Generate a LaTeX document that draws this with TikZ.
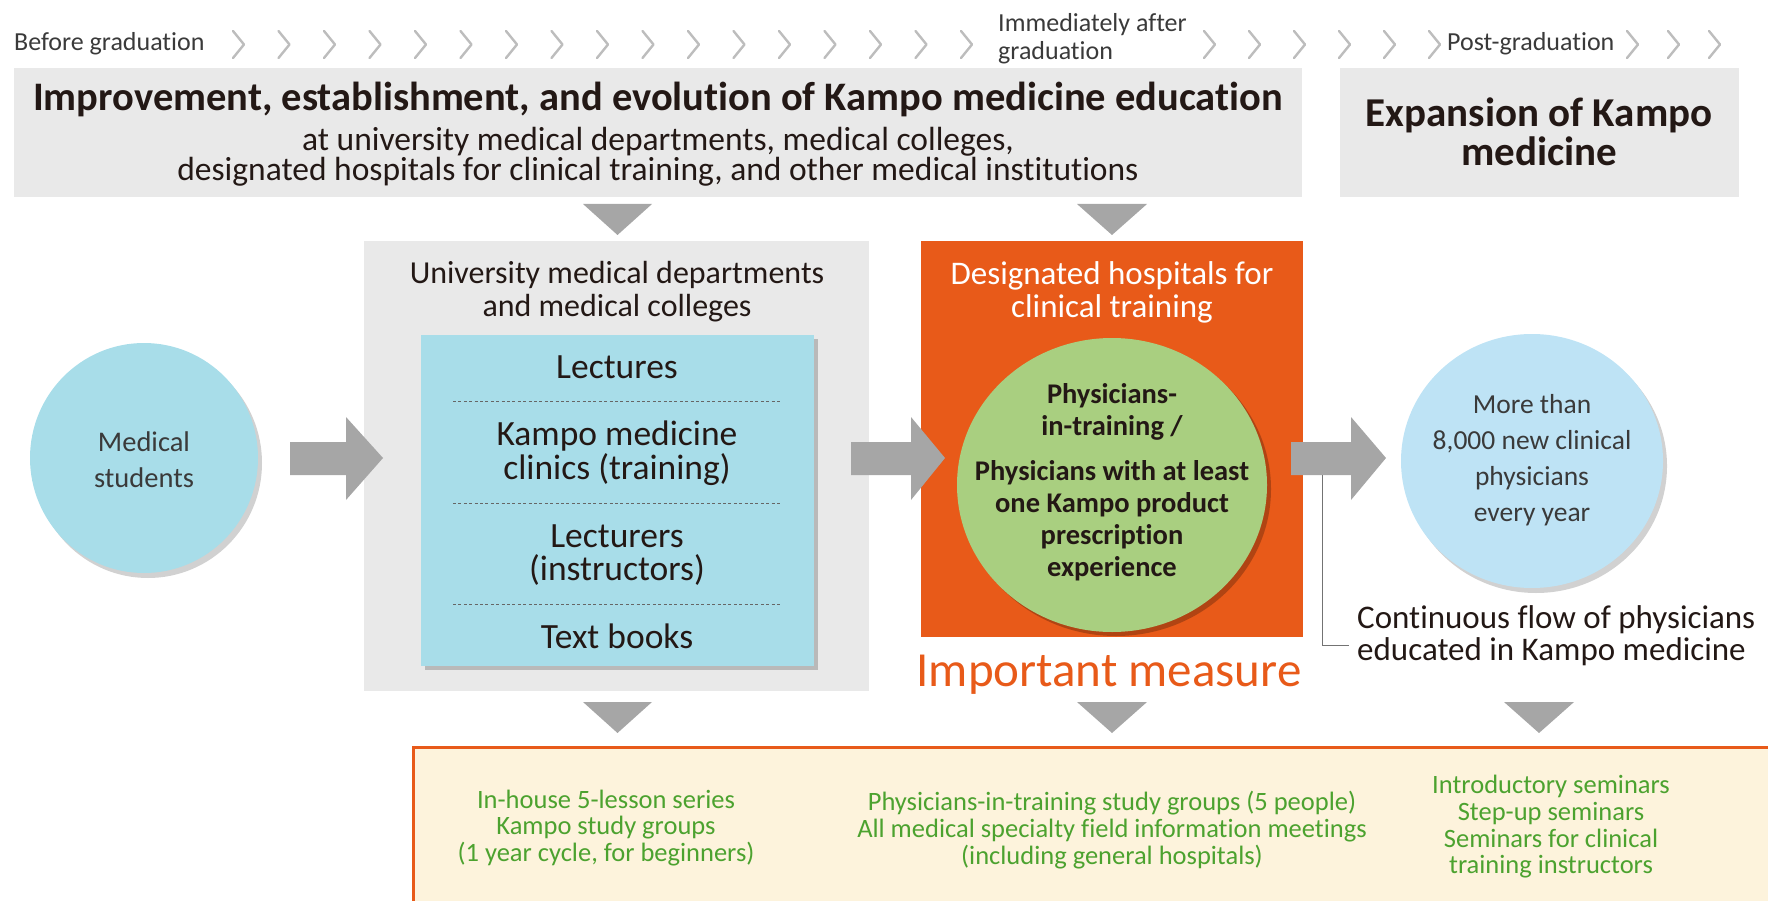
\documentclass[tikz,border=0pt]{standalone}
\usepackage{fontspec}
\setmainfont{Carlito}[Ligatures={NoCommon}]
\usetikzlibrary{shadows,shapes.geometric}

\definecolor{panelgray}{HTML}{E9E9E9}
\definecolor{arrowgray}{HTML}{A6A6A6}
\definecolor{chevgray}{HTML}{BDBDBD}
\definecolor{aqua}{HTML}{A8DDE9}
\definecolor{skyblue}{HTML}{BEE3F5}
\definecolor{accent}{HTML}{E85A19}
\definecolor{leaf}{HTML}{A9CF80}
\definecolor{cream}{HTML}{FDF3DC}
\definecolor{greentext}{HTML}{4CA22F}
\definecolor{ink}{HTML}{231815}
\definecolor{softink}{HTML}{3A3A3A}

\newcommand{\fs}[2]{\fontsize{#1}{#2}\selectfont}

\tikzset{
  chevron/.style={draw=chevgray, line width=2.4pt, line cap=round, line join=round},
  panel/.style={fill=panelgray, draw=none},
  downtri/.style={fill=arrowgray, draw=none},
  fatarrow/.style={fill=arrowgray, draw=none},
  stagelabel/.style={text=softink, font=\fs{26}{28}, inner sep=0pt},
  bubble/.style={ellipse, draw=none, inner sep=0pt,
    drop shadow={shadow xshift=4pt, shadow yshift=-5pt, fill=black!30, opacity=0.6}},
  listitem/.style={text=ink, font=\fs{35.5}{33.5}, align=center, inner sep=0pt},
  sep/.style={draw=black!60, dash pattern=on 3pt off 2.4pt, line width=1pt},
  greenlist/.style={text=greentext, font=\fs{26.5}{26.7}, align=center, inner sep=0pt},
}

\begin{document}
\begin{tikzpicture}[x=1pt, y=-1pt]
\useasboundingbox (0,0) rectangle (1768,901);

% ---------- timeline along the top ----------
\node[stagelabel, anchor=west] (before) at (14,44) {Before graduation};
\foreach \cx in {238,283.5,329,374.5,420,465.5,511,556.5,602,647.5,693,738.5,784,829.5,875,920.5,966,
                 1209,1254,1299,1344,1389,1434,1632,1673,1714}
  \draw[chevron] (\cx-5,31) -- (\cx+6,44.5) -- (\cx-5,58);
\node[stagelabel, anchor=west, align=left] (after) at (998,39) {Immediately after\\graduation};
\node[stagelabel, anchor=west, fill=white, inner xsep=2pt] (post) at (1445,44) {Post-graduation};

% ---------- headline panels ----------
\fill[panel] (14,68) rectangle (1302,197);
\node[text=ink, font=\bfseries\fs{40.5}{42}, inner sep=0pt] (headline) at (658,99)
  {Improvement, establishment, and evolution of Kampo medicine education};
\node[text=ink, font=\fs{33.5}{30}, align=center, inner sep=0pt] (headsub) at (658,157)
  {at university medical departments, medical colleges,\\designated hospitals for clinical training, and other medical institutions};

\fill[panel] (1340,68) rectangle (1739,197);
\node[text=ink, font=\bfseries\fs{41}{39}, align=center, inner sep=0pt] (expansion) at (1539,132)
  {Expansion of Kampo\\medicine};

% down markers under the headline panel
\fill[downtri] (583,204) -- (652,204) -- (617.5,235) -- cycle;
\fill[downtri] (1077,204) -- (1147,204) -- (1112,235) -- cycle;

% ---------- medical students ----------
\node[bubble, fill=aqua, minimum width=228, minimum height=230] (students) at (144,458) {};
\node[text=softink, font=\fs{28.5}{36}, align=center, inner sep=0pt] at (144,460) {Medical\\students};

% ---------- university panel ----------
\fill[panel] (364,241) rectangle (869,691);
\node[text=ink, font=\fs{32}{33}, align=center, inner sep=0pt] (univ) at (617,292)
  {University medical departments\\and medical colleges};
\node[fill=aqua, minimum width=393, minimum height=331, inner sep=0pt, anchor=north west,
  drop shadow={shadow xshift=4pt, shadow yshift=-4pt, fill=black!35, opacity=0.7}] (curric) at (421,335) {};
\node[listitem] (lectures) at (617,367) {Lectures};
\draw[sep] (453,401) -- (781,401);
\node[listitem] (clinics) at (617,453) {Kampo medicine\\clinics (training)};
\draw[sep] (453,503) -- (781,503);
\node[listitem] (lecturers) at (617,555) {Lecturers\\(instructors)};
\draw[sep] (453,604) -- (781,604);
\node[listitem] (textbooks) at (617,636) {Text books};

% ---------- designated hospitals ----------
\fill[accent] (921,241) rectangle (1303,637);
\node[text=white, font=\fs{33}{33}, align=center, inner sep=0pt] (hosp) at (1112,292)
  {Designated hospitals for\\clinical training};
\node[ellipse, fill=leaf, minimum width=310, minimum height=294, inner sep=0pt,
  drop shadow={shadow xshift=4pt, shadow yshift=-4pt, fill=black!60!accent, opacity=0.4}] (trainees) at (1112,485) {};
\node[text=ink, font=\bfseries\fs{28.5}{32}, align=center, inner sep=0pt] at (1112,482)
  {Physicians-\\in-training /\\[13pt]Physicians with at least\\one Kampo product\\prescription\\experience};
\node[text=accent, font=\fs{49}{50}, inner sep=0pt, anchor=base] (measure) at (1109,686) {Important measure};

% ---------- new physicians ----------
\node[bubble, fill=skyblue, minimum width=262, minimum height=254] (newdocs) at (1532,461) {};
\node[text=softink, font=\fs{27.5}{36}, align=center, inner sep=0pt] at (1532,460)
  {More than\\8,000 new clinical\\physicians\\every year};

% ---------- flow arrows ----------
\foreach \a/\b/\c [count=\i] in {290/346/383, 851/911/945, 1291/1351/1386}{
  \fill[fatarrow] (\a,442) -- (\b,442) -- (\b,417) -- (\c,458) -- (\b,500) -- (\b,475) -- (\a,475) -- cycle;
}
\coordinate (flowstart) at (1322,475);

% ---------- continuous flow note ----------
\node[text=ink, font=\fs{33}{32}, align=left, inner sep=0pt, anchor=west] (flow) at (1357,636)
  {Continuous flow of physicians\\educated in Kampo medicine};
\draw[draw=black!55, line width=1pt] (flowstart) |- (1349,645);

% down markers under the middle row
\fill[downtri] (583,702) -- (652,702) -- (617.5,733) -- cycle;
\fill[downtri] (1077,702) -- (1147,702) -- (1112,733) -- cycle;
\fill[downtri] (1504,702) -- (1574,702) -- (1539,733) -- cycle;

% ---------- activities panel ----------
\fill[cream] (412,746) rectangle (1768,901);
\draw[accent, line width=3pt] (413.5,901) -- (413.5,747.5) -- (1768,747.5);
\node[greenlist] (inhouse) at (606,828)
  {In-house 5-lesson series\\Kampo study groups\\(1 year cycle, for beginners)};
\node[greenlist] (groups) at (1112,830)
  {Physicians-in-training study groups (5 people)\\All medical specialty field information meetings\\(including general hospitals)};
\node[greenlist] (seminars) at (1551,827)
  {Introductory seminars\\Step-up seminars\\Seminars for clinical\\training instructors};

\end{tikzpicture}
\end{document}
